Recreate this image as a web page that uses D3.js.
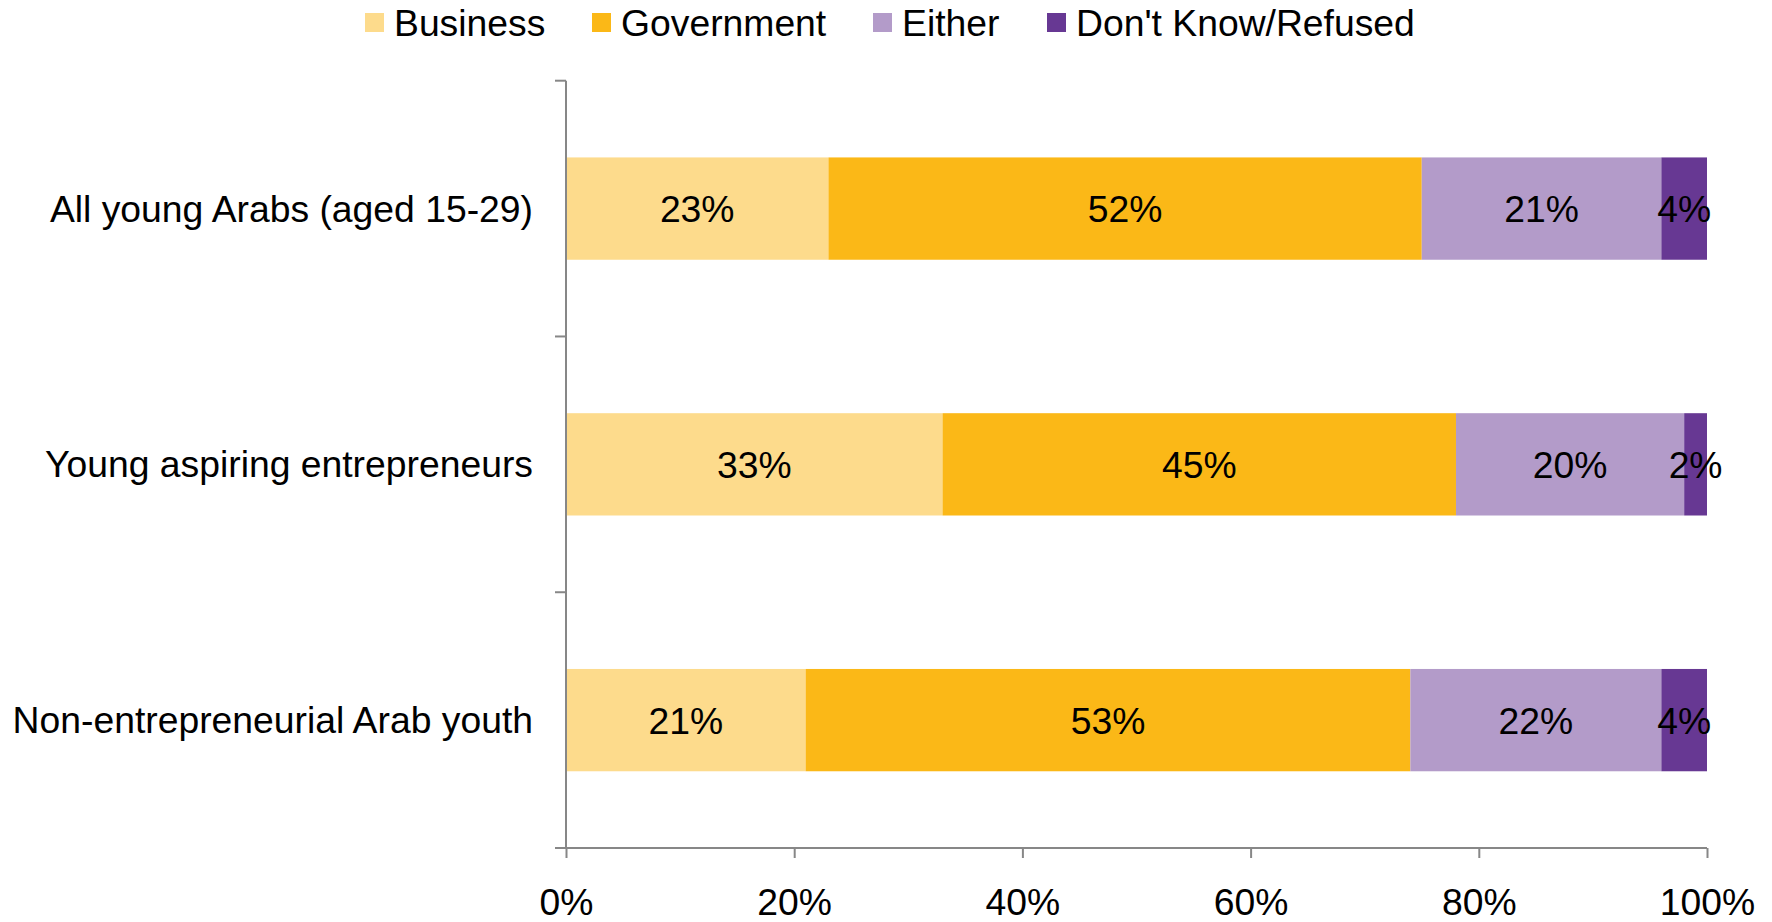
<!DOCTYPE html>
<html>
<head>
<meta charset="utf-8">
<script src="https://cdn.jsdelivr.net/npm/d3@7"></script>
<style>
  html, body { margin: 0; padding: 0; background: #fff; }
  svg { display: block; font-family: "Liberation Sans", Arial, sans-serif; }
</style>
</head>
<body>
<svg id="chart" width="1772" height="922"></svg>
<script>
// Survey groups (top to bottom)
const categories = [
  "All young Arabs (aged 15-29)",
  "Young aspiring entrepreneurs",
  "Non-entrepreneurial Arab youth"
];
// Preferred sector, percent of respondents
const seriesNames = ["Business", "Government", "Either", "Don't Know/Refused"];
const business   = [23, 33, 21];
const government = [52, 45, 53];
const either     = [21, 20, 22];
const dontKnow   = [4, 2, 4];
const xTicks = [0, 20, 40, 60, 80, 100];

const colors = ["#FDDB8C", "#FBB817", "#B39BC9", "#673893"];

const rows = categories.map((c, i) => ({
  category: c,
  "Business": business[i],
  "Government": government[i],
  "Either": either[i],
  "Don't Know/Refused": dontKnow[i]
}));

const svg = d3.select("#chart");
const plotLeft = 566, plotRight = 1707, plotTop = 80.7, plotBottom = 848;
const fontSize = 37.3;

const x = d3.scaleLinear().domain([0, 100]).range([plotLeft, plotRight]);
const y = d3.scaleBand().domain(categories).range([plotTop, plotBottom])
  .paddingInner(0.6).paddingOuter(0.3);
const color = d3.scaleOrdinal().domain(seriesNames).range(colors);

const stacked = d3.stack().keys(seriesNames)(rows);

// Bars
const layers = svg.append("g").selectAll("g").data(stacked).join("g")
  .attr("fill", d => color(d.key));
layers.selectAll("rect").data(d => d).join("rect")
  .attr("x", d => x(d[0]))
  .attr("y", d => y(d.data.category))
  .attr("width", d => x(d[1]) - x(d[0]))
  .attr("height", y.bandwidth());

// Value labels
layers.selectAll("text").data(d => d.map(v => ({v, key: d.key}))).join("text")
  .attr("x", d => (x(d.v[0]) + x(d.v[1])) / 2)
  .attr("y", d => y(d.v.data.category) + y.bandwidth() / 2 + 13.5)
  .attr("text-anchor", "middle")
  .attr("font-size", fontSize)
  .attr("fill", "#000")
  .text(d => d.v.data[d.key] + "%");

const axisColor = "#878787";

// Vertical category axis with boundary ticks
const yAxis = svg.append("g");
yAxis.append("line")
  .attr("x1", plotLeft).attr("x2", plotLeft).attr("y1", plotTop).attr("y2", plotBottom)
  .attr("stroke", axisColor).attr("stroke-width", 2);
const step = y.step();
const boundaries = d3.range(categories.length + 1).map(i => plotTop + i * step);
yAxis.selectAll("line.tick").data(boundaries).join("line")
  .attr("class", "tick")
  .attr("x1", plotLeft - 11).attr("x2", plotLeft)
  .attr("y1", d => d).attr("y2", d => d)
  .attr("stroke", axisColor).attr("stroke-width", 2);
yAxis.selectAll("text").data(categories).join("text")
  .attr("x", 533)
  .attr("y", d => y(d) + y.bandwidth() / 2 + 13)
  .attr("text-anchor", "end")
  .attr("font-size", fontSize)
  .attr("fill", "#000")
  .text(d => d);

// Horizontal percent axis
const xAxis = svg.append("g").attr("transform", `translate(0,${plotBottom})`)
  .call(d3.axisBottom(x).tickValues(xTicks).tickSize(10).tickPadding(0)
    .tickFormat(d => d + "%"));
xAxis.select(".domain").attr("stroke", axisColor).attr("stroke-width", 2)
  .attr("d", `M${plotLeft},0H${plotRight}`);
xAxis.selectAll(".tick line").attr("stroke", axisColor).attr("stroke-width", 2);
xAxis.selectAll(".tick text")
  .attr("font-family", "Liberation Sans, Arial, sans-serif")
  .attr("font-size", fontSize)
  .attr("fill", "#000")
  .attr("dy", null)
  .attr("y", 67);

// Legend
const legendX = [365, 592, 873, 1047];
const legend = svg.append("g").selectAll("g").data(seriesNames).join("g")
  .attr("transform", (d, i) => `translate(${legendX[i]},0)`);
legend.append("rect")
  .attr("x", 0).attr("y", 13).attr("width", 19).attr("height", 19)
  .attr("fill", d => color(d));
legend.append("text")
  .attr("x", 29).attr("y", 36)
  .attr("font-size", fontSize)
  .attr("fill", "#000")
  .text(d => d);
</script>
</body>
</html>
